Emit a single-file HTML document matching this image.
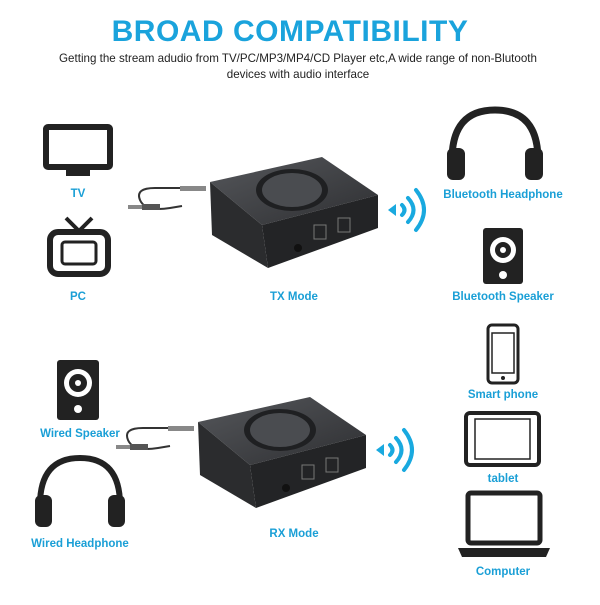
<!DOCTYPE html>
<html><head><meta charset="utf-8"><style>
body{margin:0;width:600px;height:600px;background:#fff;overflow:hidden;font-family:"Liberation Sans",sans-serif}
</style></head><body>
<svg width="600" height="600" viewBox="0 0 600 600" xmlns="http://www.w3.org/2000/svg" font-family="Liberation Sans, sans-serif">
<text x="290" y="41" text-anchor="middle" font-size="30" font-weight="bold" fill="#1aa3dc" letter-spacing="0.5">BROAD COMPATIBILITY</text>
<text x="298" y="62" text-anchor="middle" font-size="11.6" fill="#222">Getting the stream adudio from TV/PC/MP3/MP4/CD Player etc,A wide range of non-Blutooth</text>
<text x="298" y="78" text-anchor="middle" font-size="11.6" fill="#222">devices with audio interface</text>
<g font-size="11.5" font-weight="bold" fill="#1a9fd6" text-anchor="middle">
<text x="78" y="197">TV</text><text x="78" y="300">PC</text><text x="294" y="300">TX Mode</text>
<text x="503" y="198">Bluetooth Headphone</text><text x="503" y="300">Bluetooth Speaker</text>
<text x="503" y="398">Smart phone</text><text x="503" y="482">tablet</text><text x="503" y="575">Computer</text>
<text x="80" y="437">Wired Speaker</text><text x="80" y="547">Wired Headphone</text><text x="294" y="537">RX Mode</text>
</g>
<rect x="46" y="127" width="64" height="40" rx="2" fill="none" stroke="#222" stroke-width="6"/>
<rect x="66" y="170" width="24" height="6" fill="#222"/>
<line x1="66" y1="218" x2="78" y2="230" stroke="#222" stroke-width="4"/><line x1="92" y1="218" x2="80" y2="230" stroke="#222" stroke-width="4"/>
<rect x="50" y="232" width="58" height="42" rx="8" fill="none" stroke="#222" stroke-width="6"/>
<rect x="62" y="242" width="34" height="22" rx="3" fill="none" stroke="#222" stroke-width="3"/>
<path d="M452 160 Q452 110 495 110 Q538 110 538 160" fill="none" stroke="#222" stroke-width="7"/>
<rect x="447" y="148" width="18" height="32" rx="6" fill="#222"/><rect x="525" y="148" width="18" height="32" rx="6" fill="#222"/>
<rect x="483" y="228" width="40" height="56" rx="3" fill="#222"/>
<circle cx="503" cy="250" r="13" fill="#fff"/><circle cx="503" cy="250" r="8" fill="#222"/><circle cx="503" cy="250" r="3" fill="#fff"/>
<circle cx="503" cy="275" r="4" fill="#fff"/>
<rect x="488" y="325" width="30" height="58" rx="4" fill="none" stroke="#222" stroke-width="3"/>
<rect x="492" y="333" width="22" height="40" fill="none" stroke="#222" stroke-width="1.5"/><circle cx="503" cy="378" r="2" fill="#222"/>
<rect x="466" y="413" width="73" height="52" rx="4" fill="none" stroke="#222" stroke-width="4"/>
<rect x="475" y="419" width="55" height="40" fill="none" stroke="#222" stroke-width="1.5"/>
<rect x="468" y="493" width="72" height="50" rx="3" fill="none" stroke="#222" stroke-width="5"/>
<path d="M458 548 H550 L546 557 H462 Z" fill="#222"/>
<rect x="57" y="360" width="42" height="60" rx="3" fill="#222"/>
<circle cx="78" cy="383" r="14" fill="#fff"/><circle cx="78" cy="383" r="9" fill="#222"/><circle cx="78" cy="383" r="3" fill="#fff"/>
<circle cx="78" cy="409" r="4" fill="#fff"/>
<path d="M40 505 Q40 458 80 458 Q120 458 120 505" fill="none" stroke="#222" stroke-width="6"/>
<rect x="35" y="495" width="17" height="32" rx="6" fill="#222"/><rect x="108" y="495" width="17" height="32" rx="6" fill="#222"/>
<defs>
<linearGradient id="tg" x1="0" y1="0" x2="1" y2="1"><stop offset="0" stop-color="#55575b"/><stop offset="1" stop-color="#2e2f32"/></linearGradient>
<g id="dev">
<path d="M155 188 Q135 188 140 200 Q145 212 170 208 L182 206" fill="none" stroke="#333" stroke-width="2"/>
<path d="M180 188 L155 188" stroke="#333" stroke-width="2"/>
<rect x="180" y="186" width="26" height="5" fill="#888"/>
<rect x="128" y="205" width="14" height="4" fill="#888"/><rect x="142" y="204" width="18" height="6" fill="#555"/>
<polygon points="210,182 322,157 378,195 262,225" fill="url(#tg)"/>
<polygon points="262,225 378,195 378,228 268,268" fill="#232426"/>
<polygon points="210,182 262,225 268,268 212,235" fill="#2b2c2e"/>
<ellipse cx="292" cy="190" rx="36" ry="21" fill="#1f2022"/>
<ellipse cx="292" cy="190" rx="30" ry="17" fill="#4a4c50"/>
<circle cx="298" cy="248" r="4" fill="#111"/>
<rect x="314" y="225" width="12" height="14" fill="none" stroke="#777" stroke-width="1"/>
<rect x="338" y="218" width="12" height="14" fill="none" stroke="#777" stroke-width="1"/>
<path d="M402 205 q5 5 0 10 M408 198 q11 12 0 24 M416 190 q16 20 0 40" fill="none" stroke="#19a9df" stroke-width="4" stroke-linecap="round"/>
<path d="M388 210 l8 -6 v12 z" fill="#19a9df"/>
</g>
</defs>
<use href="#dev"/>
<use href="#dev" transform="translate(-12,240)"/>
</svg>
</body></html>
